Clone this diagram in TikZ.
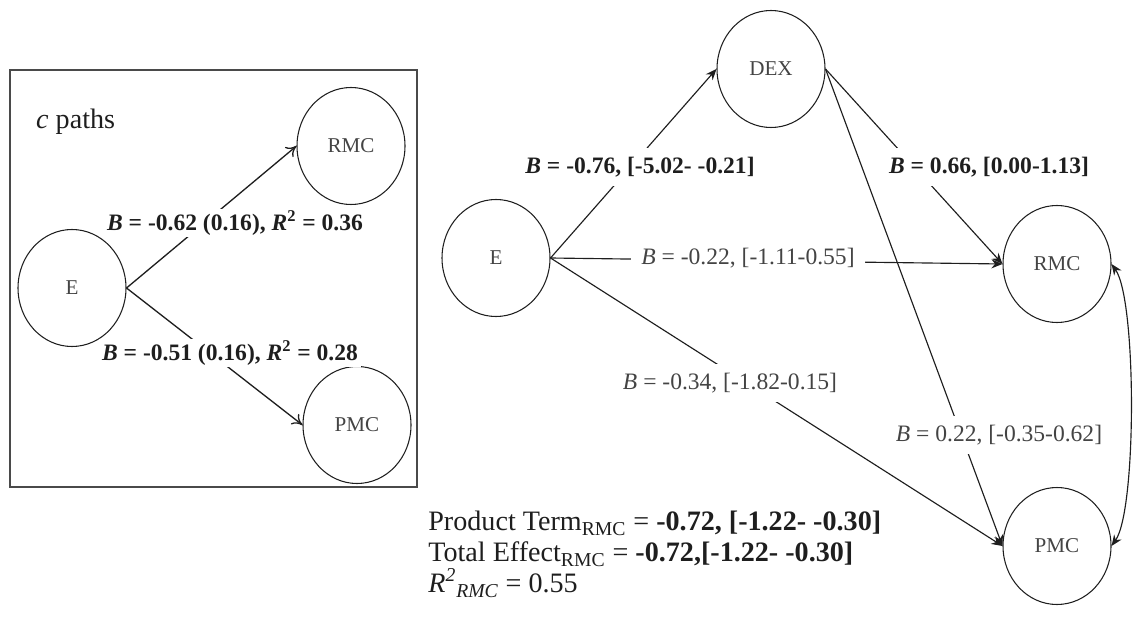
\documentclass[tikz,border=0pt]{standalone}
\usepackage{fontspec}
\setmainfont{Liberation Serif}
\usetikzlibrary{arrows.meta,shapes.geometric}
\definecolor{cink}{HTML}{1E1E1E}
\definecolor{cgray}{HTML}{444444}
\definecolor{cframe}{HTML}{4A4A4A}
\newcommand{\lblsize}{\fontsize{13.4}{16}\selectfont}
\tikzset{>={Stealth[length=2.2mm,width=1.8mm]},
  var/.style={ellipse,draw=cink,line width=0.6pt,minimum width=2.16cm,minimum height=2.34cm,inner sep=0pt,text=cgray,font=\fontsize{12}{14}\selectfont},
  lbl/.style={fill=white,inner xsep=6pt,inner ysep=5pt,text=cgray,font=\lblsize},
  lblb/.style={fill=white,inner xsep=4pt,inner ysep=5pt,text=cink,font=\lblsize\bfseries},
  clbl/.style={lblb,inner xsep=2pt,inner ysep=1pt},
  pth/.style={->,draw=cink,line width=0.65pt},
  cpth/.style={-{To[length=2mm,width=2.6mm]},draw=cink,line width=0.75pt}}

\begin{document}
\begin{tikzpicture}
\useasboundingbox (0,0) rectangle (22.66,-12.36);

% ================= LEFT: c paths =================
\draw[cframe,line width=1.2pt] (0.2,-1.4) rectangle (8.34,-9.74);
\node[anchor=west,text=cink,font=\fontsize{16}{18}\selectfont] (ctitle) at (0.6,-2.44) {\textit{c} paths};
\node[var] (e1) at (1.44,-5.76) {E};
\node[var] (r1) at (7.02,-2.92) {RMC};
\node[var] (p1) at (7.14,-8.5) {PMC};
\draw[cpth] (e1.east) -- (r1.west);
\draw[cpth] (e1.east) -- (p1.west);
\node[clbl] (c1) at (4.7,-4.46) {\textit{B} = -0.62 (0.16), \textit{R}\textsuperscript{2} = 0.36};
\node[clbl] (c2) at (4.6,-7.06) {\textit{B} = -0.51 (0.16), \textit{R}\textsuperscript{2} = 0.28};

% ================= RIGHT: mediation model =================
\node[var] (e2) at (9.92,-5.16) {E};
\node[var] (dex) at (15.42,-1.38) {DEX};
\node[var] (r2) at (21.14,-5.28) {RMC};
\node[var] (p2) at (21.14,-10.92) {PMC};
\draw[pth] (e2.east) -- (dex.west);
\draw[pth] (e2.east) -- (r2.west);
\draw[pth] (e2.east) -- (p2.west);
\draw[pth] (dex.east) -- (r2.west);
\draw[pth] (dex.east) -- (p2.west);
\draw[<->,draw=cink,line width=0.65pt] (r2.east) to[out=-55,in=55,looseness=0.4] (p2.east);
% path labels
\node[lblb] (la) at (12.8,-3.34) {\textit{B} = -0.76, [-5.02- -0.21]};
\node[lbl] (lb) at (14.96,-5.16) {\textit{B} = -0.22, [-1.11-0.55]};
\node[lbl] (lc) at (14.6,-7.66) {\textit{B} = -0.34, [-1.82-0.15]};
\node[lblb] (ld) at (19.78,-3.34) {\textit{B} = 0.66, [0.00-1.13]};
\node[lbl] (le) at (19.98,-8.7) {\textit{B} = 0.22, [-0.35-0.62]};

% ================= summary =================
\node[anchor=north west,align=left,inner sep=0pt,text=cink,font=\fontsize{16}{17.6}\selectfont] (summary) at (8.56,-10.22)
  {Product Term\textsubscript{RMC} = \textbf{-0.72, [-1.22- -0.30]}\\
   Total Effect\textsubscript{RMC} = \textbf{-0.72,[-1.22- -0.30]}\\
   \textit{R\textsuperscript{2}\textsubscript{RMC}} = 0.55};

\end{tikzpicture}
\end{document}
